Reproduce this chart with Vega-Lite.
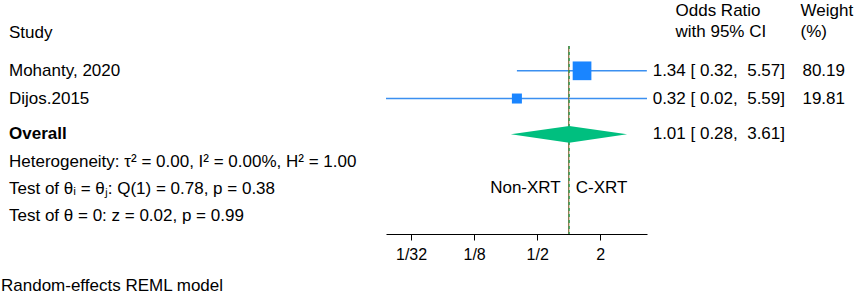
{
  "$schema": "https://vega.github.io/schema/vega-lite/v6.json",
  "padding": 0,
  "spacing": 0,
  "bounds": "flush",
  "config": {
    "font": "Liberation Sans",
    "view": {"stroke": null},
    "text": {"fontSize": 17, "color": "#000000", "font": "Liberation Sans"},
    "axis": {"grid": false, "labelFont": "Liberation Sans", "labelFontSize": 16, "labelColor": "#000000", "domainColor": "#000000", "tickColor": "#000000", "tickSize": 6, "domainWidth": 1, "tickWidth": 1, "labelPadding": 6}
  },
  "datasets": {
    "labels": [
      {"t": "Study", "row": 1.18},
      {"t": "Mohanty, 2020", "row": 2.53},
      {"t": "Dijos.2015", "row": 3.52},
      {"t": "Heterogeneity: τ² = 0.00, I² = 0.00%, H² = 1.00", "row": 5.8},
      {"t": "Test of θᵢ = θⱼ: Q(1) = 0.78, p = 0.38", "row": 6.77},
      {"t": "Test of θ = 0: z = 0.02, p = 0.99", "row": 7.71}
    ],
    "foot": [{"t": "Random-effects REML model", "row": 10.21}],
    "bold": [{"t": "Overall", "row": 4.8}],
    "studies": [
      {"study": "Mohanty, 2020", "row": 2.53, "or": 1.34, "lo": 0.32, "hi": 5.57, "w": 80.19},
      {"study": "Dijos.2015", "row": 3.52, "or": 0.32, "lo": 0.018, "hi": 5.59, "w": 19.81}
    ],
    "overall": [{"row": 4.8, "or": 1.01, "lo": 0.28, "hi": 3.61}],
    "nullline": [{"or": 1}],
    "table": [
      {"row": 2.53, "ci": "1.34 [\u00a00.32,\u00a0\u00a05.57]", "wt": "80.19"},
      {"row": 3.52, "ci": "0.32 [\u00a00.02,\u00a0\u00a05.59]", "wt": "19.81"},
      {"row": 4.8, "ci": "1.01 [\u00a00.28,\u00a0\u00a03.61]", "wt": ""}
    ],
    "hdr_or": [{"t": "Odds Ratio", "row": 0.39}, {"t": "with 95% CI", "row": 1.13}],
    "hdr_wt": [{"t": "Weight", "row": 0.39}, {"t": "(%)", "row": 1.13}],
    "sides": [{"t": "Non-XRT", "row": 6.7, "side": "left"}, {"t": "C-XRT", "row": 6.7, "side": "right"}]
  },
  "hconcat": [
    {
      "width": 386,
      "height": 234,
      "layer": [
        {
          "mark": {"type": "rule", "color": "#000000", "strokeWidth": 1.2},
          "encoding": {
            "x": {"value": 7},
            "x2": {"value": 386},
            "y": {"datum": 1.64, "type": "quantitative", "scale": {"domain": [0, 8.36], "reverse": true}, "axis": null}
          }
        },
        {
          "data": {"name": "labels"},
          "mark": {"type": "text", "align": "left", "baseline": "middle"},
          "encoding": {
            "x": {"value": 9},
            "y": {"field": "row", "type": "quantitative", "scale": {"domain": [0, 8.36], "reverse": true}, "axis": null},
            "text": {"field": "t"}
          }
        },
        {
          "data": {"name": "foot"},
          "mark": {"type": "text", "align": "left", "baseline": "middle"},
          "encoding": {
            "x": {"value": 1},
            "y": {"field": "row", "type": "quantitative", "scale": {"domain": [0, 8.36], "reverse": true}, "axis": null},
            "text": {"field": "t"}
          }
        },
        {
          "data": {"name": "bold"},
          "mark": {"type": "text", "align": "left", "baseline": "middle", "fontWeight": "bold"},
          "encoding": {
            "x": {"value": 9},
            "y": {"field": "row", "type": "quantitative", "scale": {"domain": [0, 8.36], "reverse": true}, "axis": null},
            "text": {"field": "t"}
          }
        }
      ]
    },
    {
      "width": 261,
      "height": 234,
      "layer": [
        {
          "mark": {"type": "rule", "color": "#000000", "strokeWidth": 1.2},
          "encoding": {
            "y": {"datum": 1.64, "type": "quantitative", "scale": {"domain": [0, 8.36], "reverse": true}, "axis": null}
          }
        },
        {
          "data": {"name": "studies"},
          "mark": {"type": "rule", "color": "#3b8ff0", "strokeWidth": 1.6},
          "encoding": {
            "x": {
              "field": "lo", "type": "quantitative",
              "scale": {"type": "log", "base": 2, "domain": [0.018, 5.59], "nice": false, "zero": false},
              "axis": {"title": null, "values": [0.03125, 0.125, 0.5, 2], "labelExpr": "datum.value == 0.03125 ? '1/32' : datum.value == 0.125 ? '1/8' : datum.value == 0.5 ? '1/2' : '2'"}
            },
            "x2": {"field": "hi"},
            "y": {"field": "row", "type": "quantitative", "scale": {"domain": [0, 8.36], "reverse": true}, "axis": null}
          }
        },
        {
          "data": {"name": "nullline"},
          "mark": {"type": "rule", "color": "#8a6a3a", "strokeWidth": 1.2},
          "encoding": {
            "x": {"field": "or", "type": "quantitative"},
            "y": {"datum": 1.64, "type": "quantitative", "scale": {"domain": [0, 8.36], "reverse": true}, "axis": null},
            "y2": {"datum": 8.36, "type": "quantitative"}
          }
        },
        {
          "data": {"name": "overall"},
          "mark": {"type": "rule", "color": "#1fa050", "strokeWidth": 1.2, "strokeDash": [3, 3]},
          "encoding": {
            "x": {"field": "or", "type": "quantitative"},
            "y": {"datum": 1.64, "type": "quantitative", "scale": {"domain": [0, 8.36], "reverse": true}, "axis": null},
            "y2": {"datum": 8.36, "type": "quantitative"}
          }
        },
        {
          "data": {"name": "studies"},
          "mark": {"type": "point", "shape": "square", "filled": true, "opacity": 1, "color": "#1a85ff"},
          "encoding": {
            "x": {"field": "or", "type": "quantitative"},
            "y": {"field": "row", "type": "quantitative", "scale": {"domain": [0, 8.36], "reverse": true}, "axis": null},
            "size": {"field": "w", "type": "quantitative", "scale": {"domain": [19.81, 80.19], "range": [100, 350], "zero": false}, "legend": null}
          }
        },
        {
          "data": {"name": "overall"},
          "transform": [
            {"fold": ["lo", "or", "hi"], "as": ["k", "v"]},
            {"calculate": "datum.k == 'or' ? datum.row - 0.3 : datum.row", "as": "top"},
            {"calculate": "datum.k == 'or' ? datum.row + 0.3 : datum.row", "as": "bot"}
          ],
          "mark": {"type": "area", "orient": "vertical", "color": "#00bf7f", "opacity": 1},
          "encoding": {
            "x": {"field": "v", "type": "quantitative"},
            "y": {"field": "top", "type": "quantitative", "scale": {"domain": [0, 8.36], "reverse": true}, "axis": null},
            "y2": {"field": "bot"}
          }
        },
        {
          "data": {"name": "sides"},
          "transform": [{"filter": "datum.side == 'left'"}],
          "mark": {"type": "text", "align": "right", "baseline": "middle", "dx": -8},
          "encoding": {
            "x": {"datum": 1, "type": "quantitative"},
            "y": {"field": "row", "type": "quantitative", "scale": {"domain": [0, 8.36], "reverse": true}, "axis": null},
            "text": {"field": "t"}
          }
        },
        {
          "data": {"name": "sides"},
          "transform": [{"filter": "datum.side == 'right'"}],
          "mark": {"type": "text", "align": "left", "baseline": "middle", "dx": 7},
          "encoding": {
            "x": {"datum": 1, "type": "quantitative"},
            "y": {"field": "row", "type": "quantitative", "scale": {"domain": [0, 8.36], "reverse": true}, "axis": null},
            "text": {"field": "t"}
          }
        }
      ]
    },
    {
      "width": 216,
      "height": 234,
      "layer": [
        {
          "mark": {"type": "rule", "color": "#000000", "strokeWidth": 1.2},
          "encoding": {
            "x": {"value": 0},
            "x2": {"value": 213},
            "y": {"datum": 1.64, "type": "quantitative", "scale": {"domain": [0, 8.36], "reverse": true}, "axis": null}
          }
        },
        {
          "data": {"name": "table"},
          "transform": [{"fold": ["ci", "wt"], "as": ["col", "txt"]}],
          "mark": {"type": "text", "align": "right", "baseline": "middle"},
          "encoding": {
            "x": {"field": "col", "type": "nominal", "scale": {"type": "point", "domain": ["ci", "wt"], "range": [138, 198], "padding": 0}, "axis": null},
            "y": {"field": "row", "type": "quantitative", "scale": {"domain": [0, 8.36], "reverse": true}, "axis": null},
            "text": {"field": "txt"}
          }
        },
        {
          "data": {"name": "hdr_or"},
          "mark": {"type": "text", "align": "left", "baseline": "middle", "dx": -109.5},
          "encoding": {
            "x": {"datum": "ci", "type": "nominal"},
            "y": {"field": "row", "type": "quantitative", "scale": {"domain": [0, 8.36], "reverse": true}, "axis": null},
            "text": {"field": "t"}
          }
        },
        {
          "data": {"name": "hdr_wt"},
          "mark": {"type": "text", "align": "left", "baseline": "middle", "dx": -44.5},
          "encoding": {
            "x": {"datum": "wt", "type": "nominal"},
            "y": {"field": "row", "type": "quantitative", "scale": {"domain": [0, 8.36], "reverse": true}, "axis": null},
            "text": {"field": "t"}
          }
        }
      ]
    }
  ]
}
